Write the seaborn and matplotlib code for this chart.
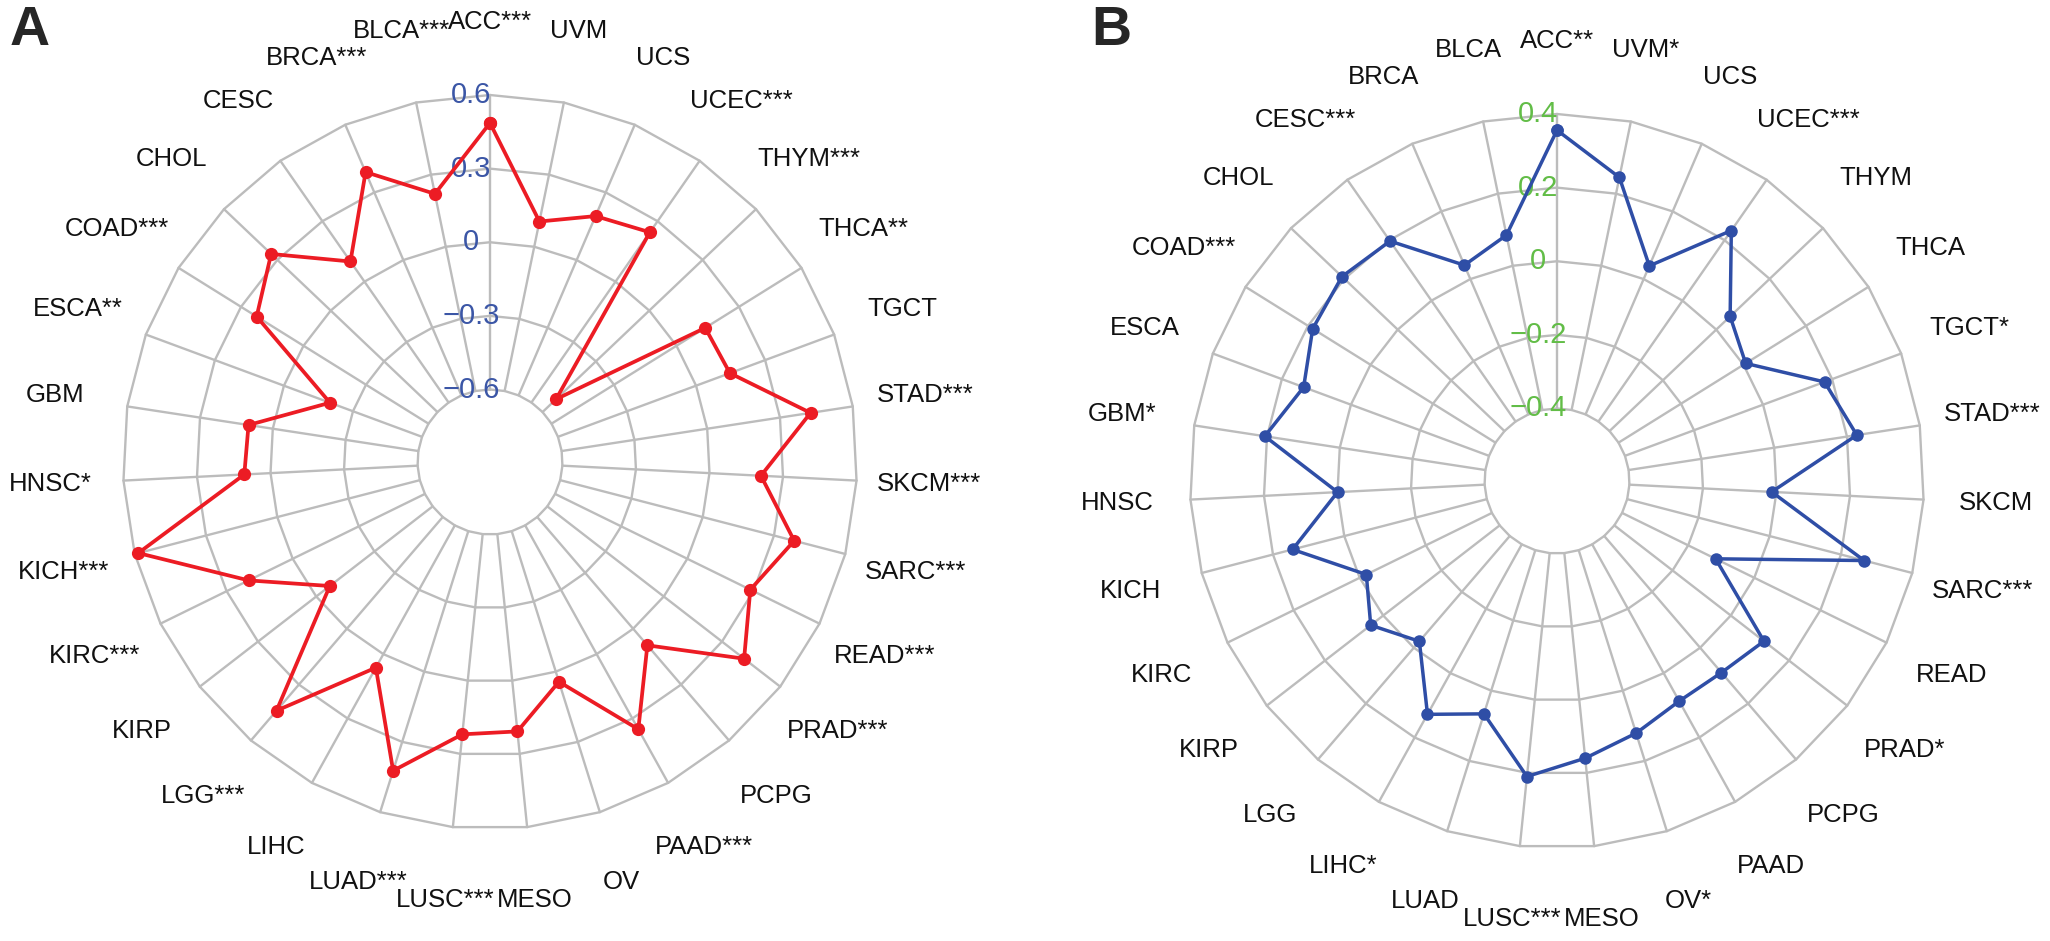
import numpy as np
import pandas as pd
import matplotlib
matplotlib.use("Agg")
import matplotlib.pyplot as plt
import matplotlib.transforms as mtransforms
import seaborn as sns

# ---------------- data ----------------
cancers = ["ACC", "BLCA", "BRCA", "CESC", "CHOL", "COAD", "ESCA", "GBM", "HNSC",
           "KICH", "KIRC", "KIRP", "LGG", "LIHC", "LUAD", "LUSC", "MESO", "OV",
           "PAAD", "PCPG", "PRAD", "READ", "SARC", "SKCM", "STAD", "TGCT", "THCA",
           "THYM", "UCEC", "UCS", "UVM"]

sig_a = ["***", "***", "***", "", "", "***", "**", "", "*",
         "***", "***", "", "***", "", "***", "***", "", "",
         "***", "", "***", "***", "***", "***", "***", "", "**",
         "***", "***", "", ""]
values_a = [0.486, 0.22, 0.39, 0.10, 0.335, 0.225, -0.20, 0.10, 0.107,
            0.585, 0.20, -0.07, 0.44, 0.063, 0.423, 0.22, 0.208, 0.043,
            0.35, 0.089, 0.414, 0.286, 0.385, 0.21, 0.426, 0.147, 0.138,
            -0.524, 0.245, 0.195, 0.105]

sig_b = ["**", "", "", "***", "", "***", "", "*", "",
         "", "", "", "", "*", "", "***", "", "*",
         "", "", "*", "", "***", "", "***", "*", "",
         "", "***", "", "*"]
values_b = [0.356, 0.085, 0.041, 0.197, 0.209, 0.185, 0.137, 0.206, 0.0,
            0.145, -0.02, 0.043, -0.023, 0.128, 0.066, 0.21, 0.16, 0.121,
            0.087, 0.089, 0.114, -0.117, 0.265, -0.013, 0.227, 0.178, 0.007,
            0.052, 0.232, 0.039, 0.245]

ticks_a = [-0.6, -0.3, 0.0, 0.3, 0.6]
ticks_b = [-0.4, -0.2, 0.0, 0.2, 0.4]
tick_labels_a = ["\u22120.6", "\u22120.3", "0", "0.3", "0.6"]
tick_labels_b = ["\u22120.4", "\u22120.2", "0", "0.2", "0.4"]

# ---------------- style ----------------
sns.set_style("white")
plt.rcParams["font.family"] = ["Liberation Sans", "DejaVu Sans"]

W, H = 2050, 941
fig = plt.figure(figsize=(W / 100, H / 100), dpi=100)

R_PX = 367.0       # outer ring radius (px)
HOLE = 72.5 / R_PX  # inner hole fraction
LABEL_PX = 440.0
GRID_C = "#BCBCBC"


def radar(center, values, sig, ticks, tick_labels, line_color, tick_color,
          lw, ms):
    cx, cy = center
    rect = [(cx - R_PX) / W, (H - cy - R_PX) / H, 2 * R_PX / W, 2 * R_PX / H]
    ax = fig.add_axes(rect, projection="polar")
    ax.set_theta_zero_location("N")
    ax.set_theta_direction(1)
    lo, hi = ticks[0], ticks[-1]
    rmin = lo - (hi - lo) * HOLE / (1 - HOLE)
    ax.set_ylim(rmin, hi)
    ax.grid(False)
    ax.set_xticks([])
    ax.set_yticks([])
    ax.spines["polar"].set_visible(False)

    n = len(cancers)
    theta = np.linspace(0, 2 * np.pi, n, endpoint=False)
    theta_c = np.append(theta, 2 * np.pi)

    # polygon rings
    for t in ticks:
        ax.plot(theta_c, [t] * (n + 1), color=GRID_C, lw=1.7, zorder=1,
                clip_on=False)
    # spokes
    for th in theta:
        ax.plot([th, th], [lo, hi], color=GRID_C, lw=1.7, zorder=1,
                clip_on=False)

    # radial tick labels along the top spoke
    trans = mtransforms.offset_copy(ax.transData, fig=fig, x=-19, y=0,
                                    units="dots")
    for t, lab in zip(ticks, tick_labels):
        ax.text(0, t, lab, transform=trans, ha="center", va="center",
                color=tick_color, fontsize=21, zorder=2, clip_on=False)

    # data
    df = pd.DataFrame({"theta": theta_c, "value": list(values) + [values[0]]})
    sns.lineplot(data=df, x="theta", y="value", sort=False, estimator=None,
                 color=line_color, lw=lw, marker="o", markersize=ms,
                 markeredgewidth=0, ax=ax, zorder=3, clip_on=False)
    ax.set_xlabel("")
    ax.set_ylabel("")

    # category labels
    r_lab = rmin + (hi - rmin) * LABEL_PX / R_PX
    for th, name, s in zip(theta, cancers, sig):
        ax.text(th, r_lab, name + s, ha="center", va="center", fontsize=18.5,
                color="#111111", clip_on=False)
    return ax


radar((490, 462), values_a, sig_a, ticks_a, tick_labels_a,
      "#EC1C24", "#3B56A6", 2.7, 9.5)
radar((1557, 481), values_b, sig_b, ticks_b, tick_labels_b,
      "#2F4EA6", "#62BD47", 2.5, 9.0)

fig.text(10 / W, 1 - 5 / H, "A", fontsize=40, fontweight="bold",
         ha="left", va="top")
fig.text(1091 / W, 1 - 5 / H, "B", fontsize=40, fontweight="bold",
         ha="left", va="top")

fig.savefig("out.png", dpi=100, facecolor="white")
